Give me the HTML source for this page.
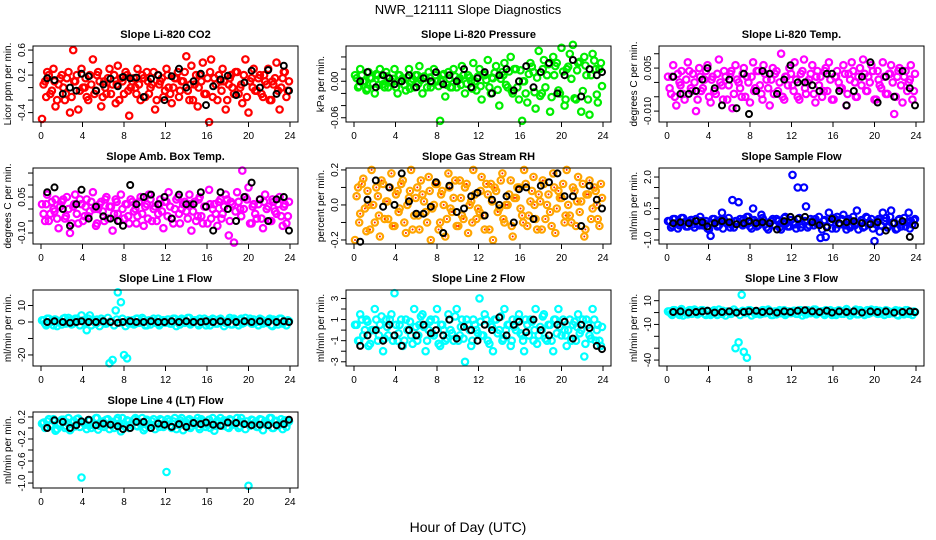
<!DOCTYPE html>
<html><head><meta charset="utf-8"><style>
html,body{margin:0;padding:0;background:#fff;}
svg{display:block;font-family:"Liberation Sans",sans-serif;}
</style></head><body>
<svg id="chart" width="936" height="540" viewBox="0 0 936 540">
<text x="468" y="14" text-anchor="middle" font-size="13">NWR_121111  Slope Diagnostics</text>
<text x="468" y="532" text-anchor="middle" font-size="14">Hour of Day (UTC)</text>
</svg>
<script>
// Shared hour-of-day positions
const H=[0.1,0.4,0.6,0.9,1.2,1.4,1.7,2.0,2.3,2.5,2.8,3.1,3.3,3.6,3.9,4.2,4.4,4.7,5.0,5.3,5.5,5.8,6.1,6.3,6.6,6.9,7.2,7.4,7.7,8.0,8.3,8.5,8.8,9.1,9.3,9.6,9.9,10.2,10.4,10.7,11.0,11.3,11.5,11.8,12.1,12.3,12.6,12.9,13.2,13.4,13.7,14.0,14.3,14.5,14.8,15.1,15.3,15.6,15.9,16.2,16.4,16.7,17.0,17.3,17.5,17.8,18.1,18.3,18.6,18.9,19.2,19.4,19.7,20.0,20.3,20.5,20.8,21.1,21.4,21.6,21.9,22.2,22.4,22.7,23.0,23.3,23.5,23.8];
const H2=[0.25,0.5,0.75,1.05,1.3,1.55,1.85,2.15,2.4,2.65,2.95,3.2,3.45,3.75,4.05,4.3,4.55,4.85,5.15,5.4,5.65,5.95,6.2,6.45,6.75,7.05,7.3,7.55,7.85,8.15,8.4,8.65,8.95,9.2,9.45,9.75,10.05,10.3,10.55,10.85,11.15,11.4,11.65,11.95,12.2,12.45,12.75,13.05,13.3,13.55,13.85,14.15,14.4,14.65,14.95,15.2,15.45,15.75,16.05,16.3,16.55,16.85,17.15,17.4,17.65,17.95,18.2,18.45,18.75,19.05,19.3,19.55,19.85,20.15,20.4,20.65,20.95,21.25,21.5,21.75,22.05,22.3,22.55,22.85,23.15,23.4,23.65,23.9];
const B=[0.6,1.3,2.1,2.8,3.4,3.9,4.6,5.3,6.0,6.7,7.4,7.9,8.6,9.2,9.9,10.6,11.3,11.9,12.6,13.3,14.0,14.7,15.4,15.9,16.6,17.3,18.0,18.8,19.6,20.3,21.1,21.9,22.7,23.4,23.9];
const xTicks=[0,4,8,12,16,20,24];

const CO2_Y=[-0.5,0.1,0.25,-0.1,0.3,-0.3,0.05,0.2,-0.2,0.15,-0.4, 0.6,0.1,-0.35,0.3,0.0,-0.15,0.2,0.45,-0.05,0.25,-0.3, 0.1,-0.1,0.3,0.05,-0.25,0.35,0.15,-0.1,0.2,-0.45,0.1, 0.0,0.3,-0.2,0.15,0.25,-0.1,0.05,-0.35,0.2,0.1,-0.15, 0.3,0.0,-0.25,0.15,0.25,-0.05,0.1,0.5,-0.2,0.35,0.05, -0.3,0.2,0.4,-0.1,-0.55,0.45,0.15,-0.2,0.1,0.3,-0.35, 0.05,0.2,-0.1,0.25,0.0,-0.25,0.45,-0.4,0.15,0.3,-0.05, 0.2,-0.15,0.1,0.3,-0.2,0.05,0.4,-0.35,0.15,0.25,-0.05];
const CO2_Y2=[0.05,-0.15,0.2,-0.05,0.1,-0.2,0.15,0.0,-0.1,0.25,-0.15, 0.1,0.2,-0.05,0.0,0.15,-0.2,0.05,-0.1,0.2,0.1,-0.15, 0.0,0.15,-0.1,0.2,0.05,-0.2,0.1,0.25,-0.05,0.0,0.15, -0.1,0.05,0.2,-0.15,0.1,0.0,0.25,-0.2,0.05,0.15,-0.05, 0.2,-0.1,0.0,0.15,-0.15,0.1,0.25,-0.05,0.05,-0.2,0.2, 0.0,0.1,-0.1,0.15,0.25,-0.15,0.05,0.2,-0.05,0.1,-0.2, 0.15,0.0,0.25,-0.1,0.05,0.2,-0.15,0.1,0.0,-0.05,0.15, -0.1,0.2,0.05,-0.2,0.1,0.15,-0.05,0.0,0.25,-0.15,0.1];
const CO2_B=[0.15,0.12,-0.1,0.0,-0.05,0.22,0.18,-0.05,0.05,0.14,0.02,0.17,0.15,0.16,-0.15,0.14,0.2,-0.2,0.18,0.3,0.0,0.1,0.22,-0.28,0.02,0.13,0.19,-0.12,0.08,0.27,0.0,0.28,-0.1,0.35,-0.05];
const PR_Y=[0.01,-0.01,0.02,0.0,-0.015,0.015,0.005,-0.02,0.01,0.02,-0.005, 0.015,-0.01,0.0,0.02,-0.02,0.01,0.005,-0.015,0.02,0.0,-0.01, 0.01,0.025,-0.02,0.005,0.015,-0.01,0.02,0.0,-0.065,0.01,-0.025, 0.015,-0.01,0.02,-0.01,0.005,0.025,-0.02,0.01,0.0,0.03,-0.015, 0.02,-0.03,0.01,0.035,-0.02,0.005,0.025,-0.04,0.015,0.03,-0.01, 0.04,-0.02,0.02,-0.03,-0.065,0.0,-0.035,0.03,0.015,-0.045,0.05, -0.02,0.035,0.01,-0.05,0.04,0.025,-0.015,0.055,-0.04,0.02,0.045, 0.06,-0.03,0.03,-0.05,0.04,0.01,-0.055,0.045,0.02,-0.035,0.03];
const PR_Y2=[0.005,-0.008,0.01,0.0,-0.012,0.006,-0.004,0.012,-0.006,0.002,-0.01, 0.008,-0.002,0.004,-0.01,0.01,0.0,-0.006,0.006,-0.012,0.004,0.01, -0.004,0.002,0.008,-0.01,0.006,-0.002,0.01,-0.008,0.0,0.012,-0.006, 0.004,-0.01,0.008,0.002,-0.006,0.01,-0.004,0.006,-0.012,0.0,0.008, -0.008,0.012,0.002,-0.01,0.006,0.014,-0.014,0.004,0.01,-0.006,0.016, -0.016,0.02,-0.01,0.018,0.0,-0.02,0.012,0.024,-0.018,0.006,-0.024, 0.02,-0.01,0.028,-0.026,0.01,0.03,-0.02,0.016,-0.03,0.024,0.004, -0.028,0.018,0.032,-0.016,0.026,-0.03,0.01,0.034,-0.022,0.02,-0.008];
const PR_B=[0.0,0.015,-0.01,0.01,0.005,-0.005,0.0,0.01,-0.01,0.005,0.0,0.015,-0.005,0.01,0.0,0.02,-0.01,0.005,0.015,-0.02,0.01,0.02,-0.015,0.0,0.025,-0.01,0.015,0.03,-0.02,0.01,0.035,-0.025,0.02,0.01,0.015];
const TP_Y=[0.002,-0.004,0.006,-0.008,0.0,0.004,-0.006,0.007,-0.002,0.003,-0.01, 0.005,-0.003,0.001,0.006,-0.007,0.002,-0.004,0.008,-0.001,0.004,-0.006, 0.003,-0.009,0.006,0.0,-0.005,0.005,0.002,-0.007,0.007,-0.002,0.004, -0.004,0.006,0.001,-0.008,0.005,0.003,-0.003,0.01,-0.006,0.002,0.005, -0.001,0.007,-0.005,0.003,0.008,-0.004,0.001,0.006,-0.007,0.004,0.002, -0.003,0.005,0.007,-0.006,0.002,0.004,-0.002,0.006,-0.008,0.003,0.007, 0.0,-0.005,0.005,0.008,-0.003,0.002,0.006,-0.006,0.004,-0.001,0.007, -0.004,0.003,0.006,-0.011,0.002,0.005,-0.007,0.004,0.0,0.006,-0.003];
const TP_Y2=[-0.002,0.002,-0.005,0.003,-0.001,-0.004,0.001,0.004,-0.003,0.0,-0.006, 0.002,-0.002,0.004,-0.005,0.001,-0.003,0.003,0.0,-0.006,0.002,-0.001, 0.004,-0.004,0.001,-0.002,0.003,-0.005,0.0,0.002,-0.003,0.004,-0.001, -0.006,0.003,-0.002,0.001,-0.004,0.004,0.0,-0.005,0.002,-0.001,0.003, -0.003,0.001,-0.006,0.004,-0.002,0.0,0.003,-0.004,0.002,-0.001,-0.005, 0.004,-0.003,0.001,-0.006,0.002,0.0,-0.002,0.003,-0.004,0.001,0.004, -0.005,0.002,-0.001,0.003,-0.003,0.0,0.004,-0.006,0.001,-0.002,0.002, -0.004,0.003,0.0,-0.005,0.004,-0.001,0.002,-0.003,0.001,-0.006,0.003];
const TP_B=[0.002,-0.004,-0.004,-0.003,0.001,0.005,-0.002,-0.008,0.001,-0.009,0.003,-0.011,-0.003,0.004,0.003,-0.004,0.001,0.006,0.0,0.0,-0.001,-0.003,0.003,0.003,-0.003,-0.008,-0.003,0.002,0.007,-0.007,0.002,-0.005,0.004,-0.002,-0.008];
const AB_Y=[0.02,-0.05,0.06,-0.02,0.0,0.04,-0.08,0.03,-0.04,0.05,-0.1, 0.01,0.06,-0.06,0.02,-0.03,0.04,-0.01,0.07,-0.07,0.0,0.03, -0.05,0.05,0.01,-0.09,0.04,-0.02,0.06,-0.04,0.02,-0.06,0.03, 0.0,-0.03,0.05,-0.07,0.02,0.06,-0.05,0.01,-0.02,0.04,-0.08, 0.03,0.07,-0.04,0.0,0.05,-0.06,0.02,-0.01,0.06,-0.09,0.03, -0.03,0.05,-0.06,0.01,0.08,-0.04,0.02,-0.07,0.04,-0.02,0.06, -0.11,0.03,-0.14,0.07,0.0,0.16,0.05,0.09,-0.06,0.02,-0.04, 0.04,-0.08,0.06,0.01,-0.05,0.03,-0.02,0.05,-0.07,0.02,-0.03];
const AB_Y2=[-0.02,0.02,-0.05,0.03,-0.01,-0.04,0.01,0.04,-0.03,0.0,-0.06, 0.02,-0.02,0.04,-0.05,0.01,-0.03,0.03,0.0,-0.06,0.02,-0.01, 0.04,-0.04,0.01,-0.02,0.03,-0.05,0.0,0.02,-0.03,0.04,-0.01, -0.06,0.03,-0.02,0.01,-0.04,0.04,0.0,-0.05,0.02,-0.01,0.03, -0.03,0.01,-0.06,0.04,-0.02,0.0,0.03,-0.04,0.02,-0.01,-0.05, 0.04,-0.03,0.01,-0.06,0.02,0.0,-0.02,0.03,-0.04,0.01,0.04, -0.05,0.02,-0.01,0.03,-0.03,0.0,0.04,-0.06,0.01,-0.02,0.02, -0.04,0.03,0.0,-0.05,0.04,-0.01,0.02,-0.03,0.01,-0.06,0.03];
const AB_B=[0.07,0.09,0.0,-0.07,0.02,0.08,-0.04,0.01,-0.03,-0.04,-0.05,-0.07,0.1,0.02,0.05,0.06,0.02,0.05,-0.04,0.06,0.02,0.02,0.07,0.01,-0.09,0.07,0.0,-0.05,0.05,0.11,0.04,-0.05,0.04,0.05,-0.09];
const RH_Y=[-0.2,0.1,-0.05,0.15,-0.15,0.0,0.2,-0.1,0.05,-0.18,0.12, 0.02,-0.08,0.18,-0.12,0.08,-0.02,0.14,-0.16,0.04,0.2,-0.06, 0.1,-0.14,0.06,-0.04,0.16,-0.2,0.0,0.12,-0.1,0.08,-0.18, 0.18,-0.02,0.04,-0.12,0.14,-0.06,0.1,-0.16,0.02,0.2,-0.08, -0.04,0.16,-0.14,0.06,0.12,-0.2,0.08,-0.02,0.18,-0.1,0.0, 0.14,-0.18,0.04,0.1,-0.06,0.2,-0.12,0.02,0.16,-0.08,0.06, -0.14,0.12,0.0,-0.04,0.18,-0.16,0.08,0.04,-0.1,0.2,-0.06, 0.1,-0.12,0.16,0.02,-0.18,0.06,0.14,-0.02,0.08,-0.08,0.12];
const RH_Y2=[0.05,-0.1,0.12,-0.02,0.08,-0.14,0.0,0.1,-0.06,0.14,-0.08, 0.02,0.1,-0.12,0.06,-0.04,0.12,-0.1,0.0,0.08,-0.14,0.04, -0.06,0.14,0.02,-0.1,0.08,-0.02,0.12,-0.14,0.06,0.0,-0.08, 0.1,-0.04,0.14,-0.12,0.04,-0.08,0.12,0.0,-0.1,0.06,-0.02, 0.08,-0.06,0.12,-0.14,0.02,0.1,-0.04,0.14,-0.08,0.0,0.06, -0.12,0.04,0.1,-0.02,-0.1,0.12,-0.06,0.08,0.0,-0.14,0.02, 0.14,-0.08,0.06,-0.12,0.1,-0.02,0.04,0.12,-0.06,0.0,-0.1, 0.08,0.02,-0.04,0.12,-0.14,0.06,-0.08,0.1,0.0,-0.12,0.04];
const RH_B=[-0.21,0.03,0.14,-0.01,0.1,0.0,0.18,0.02,-0.05,-0.05,-0.01,0.13,-0.16,0.11,-0.04,-0.02,0.05,0.07,-0.06,0.03,0.0,0.05,-0.1,0.09,0.1,-0.08,0.11,0.13,0.18,0.05,0.05,-0.12,0.11,0.03,-0.02];
const SF_Y=[-0.1,-0.4,0.0,-0.2,-0.3,0.05,-0.15,-0.35,-0.05,-0.25,0.0, -0.3,-0.1,-0.2,-0.45,-0.8,0.0,-0.15,-0.3,0.3,-0.05,-0.2, -0.4,0.9,-0.1,0.8,-0.25,0.0,0.1,-0.35,0.5,-0.15,-0.3, 0.2,-0.05,-0.4,-0.2,0.0,-0.3,-0.1,-0.5,0.05,-0.2,-0.35, 2.1,-0.25,1.5,-0.4,1.5,0.6,-0.3,-0.1,0.0,-0.2,-0.9, -0.1,-0.85,0.3,-0.45,0.0,0.1,-0.25,0.2,-0.5,0.0,-0.3, -0.3,0.4,-0.15,-0.4,0.1,-0.25,0.0,-1.05,-0.1,-0.6,0.3, 0.05,-0.3,0.4,-0.2,-0.45,0.0,-0.15,-0.35,0.3,-0.1,-0.05];
const SF_Y2=[-0.1,-0.3,0.0,-0.45,-0.2,0.05,-0.35,-0.15,-0.05,-0.4,-0.25, 0.1,-0.3,-0.1,-0.5,-0.2,0.0,-0.35,-0.05,-0.45,-0.15,0.05, -0.25,-0.4,-0.1,0.0,-0.3,-0.2,0.1,-0.45,-0.05,-0.35,-0.15, 0.05,-0.25,-0.5,-0.1,-0.3,0.0,-0.4,-0.2,0.1,-0.35,-0.05, -0.15,-0.45,0.05,-0.25,-0.1,-0.4,0.0,-0.3,-0.2,0.1,-0.5, -0.05,-0.35,-0.15,0.05,-0.45,-0.25,0.0,-0.3,-0.1,-0.4,0.1, -0.2,-0.5,-0.05,-0.35,0.05,-0.15,-0.45,-0.25,0.0,-0.3,-0.1, -0.4,0.1,-0.2,-0.5,-0.05,-0.35,0.05,-0.15,-0.45,-0.25,0.0];
const SF_B=[-0.2,-0.15,-0.2,-0.1,-0.15,-0.35,-0.2,-0.1,-0.15,-0.25,-0.2,-0.1,-0.2,-0.15,-0.2,-0.5,-0.1,0.1,0.0,0.1,-0.15,-0.3,-0.4,0.0,-0.2,-0.15,-0.1,-0.2,-0.25,-0.15,-0.55,-0.2,-0.1,-0.85,-0.3];
const L1_Y=[1,-1,2,0,-2,1.5,0.5,-1.5,2.5,0,1, -1,2,0.5,4,1,-5,4,1.5,-1,0,2, 0,-1,-25,-23,7,18,12,-20,-22,-1,1, -1,2,0,1.5,-2,1,0.5,-0.5,2,-1,1, 0,1.5,-1,2,0.5,-1.5,1,0,2.5,-0.5,1, -1,2,0.5,-2,1,0,1.5,-1,2,0.5,-0.5, 1,-1.5,2,0,1,-1,2.5,0.5,-1,1.5,0, 2,-1,0.5,1,-2,1.5,0,2,-1,0.5,1];
const L1_Y2=[1,-2,2,0,1.5,-2.5,0,2,-1,2.5,-1.5, 0.5,2,-2,1,-0.5,2,-2,0,1.5,-2.5,0.5, -1,2.5,0.5,-2,1.5,-0.5,2,-2.5,1,0,-1.5, 2,-0.5,2.5,-2,0.5,-1.5,2,0,-2,1,-0.5, 1.5,-1,2,-2.5,0.5,2,-0.5,2.5,-1.5,0,1, -2,0.5,2,-0.5,-2,2,-1,1.5,0,-2.5,0.5, 2.5,-1.5,1,-2,2,-0.5,0.5,2,-1,0,-2, 1.5,0.5,-0.5,2,-2.5,1,-1.5,2,0,-2,0.5];
const L1_B=[0,0.5,0,-0.5,0,0.5,0,0,0.5,0,-0.5,0,0.5,0,0,0.5,0,0,0.5,0,0.5,0,0,0.5,0,0.5,0,0,0.5,0,0.5,0,0,0.5,0];
const L2_Y=[0.5,-1,1.5,-0.5,1,-1.5,0,2,-1,0.5,-2, 1,-0.5,1.5,3.5,-1,0.5,-1.5,1,0,-0.5,2, -1,0.5,1.5,-2,0,1,-0.5,2,-1.5,0.5,-1, 1.5,0,-1,2,-0.5,1,-3,0.5,-1.5,1,0, 3,-0.5,1.5,-1,0.5,-2,1,0,-1,2,0.5, -1.5,1,0,1.5,-0.5,-2,0.5,1,-1,2,-0.5, 0,1.5,-1,0.5,-2,1,2,-0.5,0,-1.5,1, 0.5,-1,1.5,0,-2.5,1,-0.5,2,-1,0.5,-1.5];
const L2_Y2=[0.5,-1,1,0,0.8,-1.3,0,1,-0.5,1.3,-0.8, 0.3,1,-1,0.5,-0.3,1,-1,0,0.8,-1.3,0.3, -0.5,1.3,0.3,-1,0.8,-0.3,1,-1.3,0.5,0,-0.8, 1,-0.3,1.3,-1,0.3,-0.8,1,0,-1,0.5,-0.3, 0.8,-0.5,1,-1.3,0.3,1,-0.3,1.3,-0.8,0,0.5, -1,0.3,1,-0.3,-1,1,-0.5,0.8,0,-1.3,0.3, 1.3,-0.8,0.5,-1,1,-0.3,0.3,1,-0.5,0,-1, 0.8,0.3,-0.3,1,-1.3,0.5,-0.8,1,0,-1,0.3];
const L2_B=[-1.5,-0.5,0,-1,0.5,-0.5,-1.5,0,-0.5,0.5,-0.3,0,-0.5,1,-0.8,0.3,0,-1,0.5,0,1.2,-0.5,0.5,0.8,-0.2,1,0,-0.5,0.5,0.8,-0.8,0.5,0.2,-1.5,-1.8];
const L3_Y=[1,-1,2,0,-2,3,0.5,-1.5,2,-0.5,1, 0,2,-1,1.5,-2,1,0,2.5,-1,0.5,1, -1,0.5,-30,-25,15,-33,-38,2,1,-1,0.5, -1,2,0,1.5,-2,1,0.5,-0.5,2,-1,1, 0,1.5,-1,2,0.5,-1.5,1,0,2.5,-0.5,1, -1,2,0.5,-2,1,0,1.5,-1,3,0.5,-0.5, 1,-1.5,2,0,1,-1,2.5,0.5,-1,1.5,0, 2,-1,0.5,1,-2,1.5,0,2,-1,0.5,1];
const L3_Y2=[1,-2,2,0,1.5,-2.5,0,2,-1,2.5,-1.5, 0.5,2,-2,1,-0.5,2,-2,0,1.5,-2.5,0.5, -1,2.5,0.5,-2,1.5,-0.5,2,-2.5,1,0,-1.5, 2,-0.5,2.5,-2,0.5,-1.5,2,0,-2,1,-0.5, 1.5,-1,2,-2.5,0.5,2,-0.5,2.5,-1.5,0,1, -2,0.5,2,-0.5,-2,2,-1,1.5,0,-2.5,0.5, 2.5,-1.5,1,-2,2,-0.5,0.5,2,-1,0,-2, 1.5,0.5,-0.5,2,-2.5,1,-1.5,2,0,-2,0.5];
const L3_B=[0.5,1,0,0.5,1,1.5,0,0.5,1,0,0.5,1,1.5,0.5,1,0,1,0.5,1.5,2,1,0.5,1.5,0,1,0.5,1,0,1,0.5,1,0,0.5,1,0.5];
const L4_Y=[0.08,0.0,0.12,0.04,0.16,-0.05,0.08,0.15,0.0,0.1,-0.04, 0.12,0.03,0.17,-0.9,0.08,-0.02,0.14,0.05,0.18,-0.03,0.1, 0.02,0.15,-0.02,0.11,0.06,0.18,-0.06,0.08,0.14,0.0,0.1, 0.18,0.03,0.1,-0.04,0.15,0.05,0.12,-0.02,0.08,0.16,0.02, -0.8,0.12,0.0,0.18,0.06,0.14,-0.04,0.1,0.16,0.03,0.08, 0.18,-0.02,0.12,0.02,0.15,0.08,-0.05,0.13,0.18,0.04,0.1, 0.0,0.14,0.08,0.18,0.03,0.11,-0.02,-1.05,0.15,0.08,0.02, 0.16,-0.04,0.12,0.06,0.18,0.0,0.13,0.08,-0.02,0.14,0.1];
const L4_Y2=[0.1,0.02,0.16,0.06,0.12,-0.02,0.08,0.15,0.04,0.18,0.0, 0.12,0.16,0.02,0.1,0.06,0.14,0.0,0.08,0.18,0.04,0.12, 0.06,0.16,0.1,0.0,0.14,0.08,0.18,0.02,0.12,0.06,0.15, 0.04,0.1,0.18,0.0,0.12,0.06,0.16,0.08,0.02,0.14,0.1, 0.16,0.04,0.12,-0.02,0.1,0.18,0.06,0.14,0.0,0.08,0.12, 0.02,0.16,0.1,0.06,0.0,0.18,0.04,0.12,0.08,0.14,0.02, 0.16,0.06,0.1,0.0,0.18,0.08,0.12,0.04,0.14,0.1,0.02, 0.15,0.08,0.06,0.18,0.0,0.12,0.04,0.16,0.1,0.02,0.12];
const L4_B=[0.0,0.14,0.11,0.0,0.05,0.12,0.15,0.05,0.08,0.06,0.03,-0.02,0.0,0.11,0.11,0.0,0.08,0.06,0.02,0.07,0.02,0.09,0.07,0.1,0.06,0.04,0.1,0.09,0.07,0.05,0.06,0.05,0.05,0.07,0.15];

const panels=[
 {t:"Slope Li-820 CO2",yl:"Licor ppm per min.",c:"#ff0000",r:[-0.55,0.665],tk:[-0.4,-0.2,0,0.2,0.4,0.6],lb:[-0.4,0.2,0.6],y:CO2_Y,y2:CO2_Y2,b:CO2_B,d:1},
 {t:"Slope Li-820 Pressure",yl:"kPa per min.",c:"#00ee00",r:[-0.067,0.058],tk:[-0.06,-0.04,-0.02,0,0.02,0.04],lb:[-0.06,0.00],y:PR_Y,y2:PR_Y2,b:PR_B,d:2},
 {t:"Slope Li-820 Temp.",yl:"degrees C per min.",c:"#ff00ff",r:[-0.0138,0.0127],tk:[-0.01,-0.005,0,0.005,0.01],lb:[-0.010,0.005],y:TP_Y,y2:TP_Y2,b:TP_B,d:3},
 {t:"Slope Amb. Box Temp.",yl:"degrees C per min.",c:"#ff00ff",r:[-0.146,0.171],tk:[-0.1,-0.05,0,0.05,0.1,0.15],lb:[-0.10,0.05],y:AB_Y,y2:AB_Y2,b:AB_B,d:2},
 {t:"Slope Gas Stream RH",yl:"percent per min.",c:"#ffa500",r:[-0.223,0.211],tk:[-0.2,-0.1,0,0.1,0.2],lb:[-0.2,0.0,0.2],y:RH_Y,y2:RH_Y2,b:RH_B,d:1},
 {t:"Slope Sample Flow",yl:"ml/min per min.",c:"#0000ff",r:[-1.19,2.43],tk:[-1,-0.5,0,0.5,1,1.5,2],lb:[-1.0,0.5,2.0],y:SF_Y,y2:SF_Y2,b:SF_B,d:1},
 {t:"Slope Line 1 Flow",yl:"ml/min per min.",c:"#00ffff",r:[-26.7,19.4],tk:[-20,-10,0,10],lb:[-20,0,10],y:L1_Y,y2:L1_Y2,b:L1_B,d:0},
 {t:"Slope Line 2 Flow",yl:"ml/min per min.",c:"#00ffff",r:[-3.4,3.8],tk:[-3,-2,-1,0,1,2,3],lb:[-3,-1,1,3],y:L2_Y,y2:L2_Y2,b:L2_B,d:0},
 {t:"Slope Line 3 Flow",yl:"ml/min per min.",c:"#00ffff",r:[-45,19],tk:[-40,-30,-20,-10,0,10],lb:[-40,-10,10],y:L3_Y,y2:L3_Y2,b:L3_B,d:0},
 {t:"Slope Line 4 (LT) Flow",yl:"ml/min per min.",c:"#00ffff",r:[-1.09,0.29],tk:[-1,-0.8,-0.6,-0.4,-0.2,0,0.2],lb:[-1.0,-0.6,-0.2,0.2],y:L4_Y,y2:L4_Y2,b:L4_B,d:1}
];
const NS="http://www.w3.org/2000/svg";
const svg=document.getElementById('chart');
function mk(tag,attrs,parent){const e=document.createElementNS(NS,tag);for(const k in attrs)e.setAttribute(k,attrs[k]);(parent||svg).appendChild(e);return e;}
const colL=[33,346,659], rowT=[46,168,290,412], W=265, PH=76;
panels.forEach((p,i)=>{
 const L=colL[i%3], T=rowT[Math.floor(i/3)];
 const g=mk('g',{});
 
 
 const xs=h=>L+8+h/24*(W-16);
 const ys=v=>T+(p.r[1]-v)/(p.r[1]-p.r[0])*PH;
 const tt=mk('text',{x:L+W/2,y:T-8,'text-anchor':'middle','font-size':11,'font-weight':'bold'},g);
 tt.textContent=p.t;
 
 
 const yt=mk('text',{transform:`translate(${L-22},${T+PH/2}) rotate(-90)`,'text-anchor':'middle','font-size':10},g);
 yt.textContent=p.yl;
 
 
 const pts=mk('g',{fill:'none'},g);
 
 
 function drawSet(hrs,vals){
   const n=Math.min(hrs.length,vals.length);
   for(let k=0;k<n;k++){
     const cx=xs(hrs[k]).toFixed(1), cy=ys(vals[k]).toFixed(1);
     const c=mk('circle',{cx:cx,cy:cy,r:3.2,stroke:p.c,'stroke-width':2.2},pts);
     
     
     if(i===4){mk('circle',{cx:cx,cy:cy,r:1,fill:'#ff2200'},pts);}
   }
 }
 drawSet(H,p.y);
 drawSet(H2,p.y2);
 const bp=mk('g',{fill:'none'},g);
 
 
 const m=Math.min(B.length,p.b.length);
 for(let k=0;k<m;k++){
   const c=mk('circle',{cx:xs(B[k]).toFixed(1),cy:ys(p.b[k]).toFixed(1),r:3,stroke:'#000','stroke-width':2},bp);
   
   
 }
 const box=mk('rect',{x:L,y:T,width:W,height:PH,fill:'none',stroke:'#000','stroke-width':1},g);
 
 
 xTicks.forEach(h=>{
   mk('line',{x1:xs(h),x2:xs(h),y1:T+PH,y2:T+PH+5,stroke:'#000'},g);
   const tl=mk('text',{x:xs(h),y:T+PH+17,'text-anchor':'middle','font-size':10},g);
   tl.textContent=h;
   
   
 });
 p.tk.forEach(v=>{mk('line',{x1:L-5,x2:L,y1:ys(v),y2:ys(v),stroke:'#000'},g);});
 p.lb.forEach(v=>{
   const tl=mk('text',{transform:`translate(${L-8},${ys(v)}) rotate(-90)`,'text-anchor':'middle','font-size':10},g);
   tl.textContent=v.toFixed(p.d);
   
   
 });
});
</script>
</body></html>
